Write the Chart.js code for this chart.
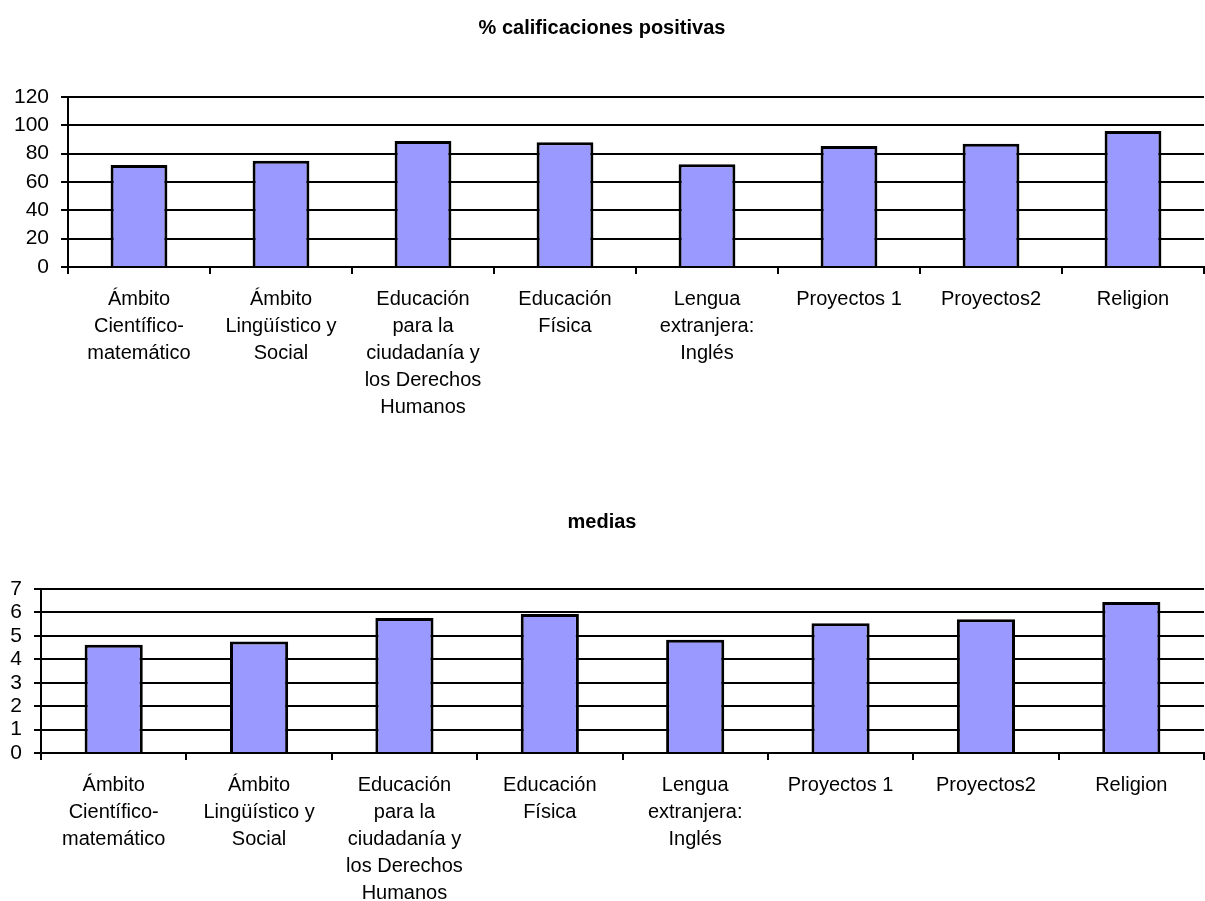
<!DOCTYPE html>
<html>
<head>
<meta charset="utf-8">
<script src="https://cdn.jsdelivr.net/npm/chart.js@4.4.0/dist/chart.umd.min.js"></script>
<style>
    html, body { margin: 0; padding: 0; background: #fff; }
    .grafico { position: absolute; left: 0; }
</style>
</head>
<body>
<div class="grafico" style="top:0"><canvas id="positivasChart" width="1205" height="447"></canvas></div>
<div class="grafico" style="top:450px"><canvas id="mediasChart" width="1205" height="451"></canvas></div>
<script>
// Asignaturas (etiquetas en varias líneas como en el original)
const asignaturas = [
    ['Ámbito', 'Científico-', 'matemático'],
    ['Ámbito', 'Lingüístico y', 'Social'],
    ['Educación', 'para la', 'ciudadanía y', 'los Derechos', 'Humanos'],
    ['Educación', 'Física'],
    ['Lengua', 'extranjera:', 'Inglés'],
    ['Proyectos 1'],
    ['Proyectos2'],
    ['Religion']
];

// % calificaciones positivas
const positivas = [72, 75, 89, 88, 72.5, 85.5, 87, 96];

// medias
const medias = [4.62, 4.76, 5.76, 5.93, 4.83, 5.54, 5.71, 6.44];

const FUENTE = 'Liberation Sans, Arial, sans-serif';

Chart.defaults.font.family = FUENTE;
Chart.defaults.color = '#000';

// Crear un gráfico de barras con el estilo de Excel
function crearGrafico(id, titulo, valores, maxY, paso, opt) {
    const ctx = document.getElementById(id);

    return new Chart(ctx, {
        type: 'bar',
        data: {
            labels: asignaturas,
            datasets: [{
                label: titulo,
                data: valores,
                backgroundColor: '#9999FF',
                borderColor: '#000',
                borderWidth: 3,
                categoryPercentage: 1,
                barPercentage: 0.4
            }]
        },
        options: {
            responsive: false,
            animation: false,
            devicePixelRatio: 1,
            layout: { padding: { left: 0, right: 1, top: 0, bottom: 0 } },
            plugins: {
                legend: { display: false },
                tooltip: { enabled: false },
                title: {
                    display: true,
                    text: titulo,
                    color: '#000',
                    font: { family: FUENTE, size: 20, weight: 'bold', lineHeight: 1.2 },
                    padding: { top: opt.titTop, bottom: opt.titBottom }
                }
            },
            scales: {
                x: {
                    offset: true,
                    border: { display: true, color: '#000', width: 2 },
                    grid: {
                        offset: true,
                        drawOnChartArea: false,
                        drawTicks: true,
                        tickLength: 7,
                        color: '#000',
                        lineWidth: 2
                    },
                    ticks: {
                        maxRotation: 0,
                        minRotation: 0,
                        autoSkip: false,
                        padding: 12,
                        color: '#000',
                        font: { family: FUENTE, size: 20, lineHeight: 1.35 }
                    },
                    afterFit: (scale) => { scale.height = opt.altoX; }
                },
                y: {
                    min: 0,
                    max: maxY,
                    border: { display: true, color: '#000', width: 2 },
                    grid: {
                        color: '#000',
                        lineWidth: 2,
                        drawTicks: true,
                        tickLength: 7
                    },
                    ticks: {
                        stepSize: paso,
                        autoSkip: false,
                        padding: 12,
                        color: '#000',
                        font: { family: FUENTE, size: 21 }
                    },
                    afterFit: (scale) => { scale.width = opt.anchoY; }
                }
            }
        }
    });
}

crearGrafico('positivasChart', '% calificaciones positivas', positivas, 120, 20,
    { titTop: 16, titBottom: 57, altoX: 180, anchoY: 68 });

crearGrafico('mediasChart', 'medias', medias, 7, 1,
    { titTop: 60, titBottom: 55, altoX: 148, anchoY: 41 });
</script>
</body>
</html>
